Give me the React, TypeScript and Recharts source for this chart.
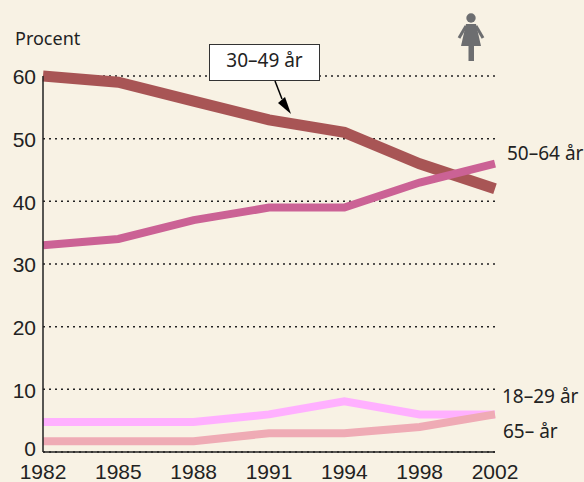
import { LineChart, Line, XAxis, YAxis, CartesianGrid } from 'recharts'

const years = ['1982', '1985', '1988', '1991', '1994', '1998', '2002']
const age30to49 = [60, 59, 56, 53, 51, 46, 42]
const age50to64 = [33, 34, 37, 39, 39, 43, 46]
const age18to29 = [4.8, 4.8, 4.8, 6, 8.1, 6, 6]
const age65plus = [1.7, 1.7, 1.7, 3, 3, 4, 6]
const yTicks = [0, 10, 20, 30, 40, 50, 60]

const data = years.map((year, i) => ({
  year,
  a: age30to49[i],
  b: age50to64[i],
  c: age18to29[i],
  d: age65plus[i],
}))

const BG = '#f8f2e4'
const LABEL_FONT = '"Noto Sans", sans-serif'
const tickStyle = { fontSize: 21, fill: '#222', fontFamily: '"Liberation Sans", sans-serif' }
const labelStyle = { fontSize: 19, fill: '#222', fontFamily: LABEL_FONT }

// the 0 sits a little above the axis so it clears the 1982 label
function YTick({ x, y, payload }: any) {
  const shift = payload.value === 0 ? -3 : 1
  return (
    <text x={x + 5} y={y + shift} dy="0.355em" textAnchor="end" {...tickStyle}>
      {payload.value}
    </text>
  )
}

export default function App() {
  return (
    <div style={{ position: 'absolute', left: 0, top: 0, width: 584, height: 482, background: BG }}>
      <LineChart
        width={584}
        height={482}
        data={data}
        margin={{ top: 76, right: 89, bottom: 0, left: 0 }}
      >
        <CartesianGrid vertical={false} stroke="#222" strokeWidth={1.5} strokeDasharray="2 4" />
        <XAxis
          dataKey="year"
          scale="point"
          height={30}
          tick={tickStyle}
          tickLine={false}
          axisLine={{ stroke: '#222', strokeWidth: 1.5 }}
          interval={0}
          tickMargin={6}
        />
        <YAxis
          width={43}
          domain={[0, 60]}
          ticks={yTicks}
          tick={YTick}
          tickLine={false}
          axisLine={{ stroke: '#222', strokeWidth: 1.5 }}
          tickMargin={6}
        />
        <Line dataKey="a" stroke="#a85555" strokeWidth={11} dot={false} isAnimationActive={false} />
        <Line dataKey="b" stroke="#cb6295" strokeWidth={8} dot={false} isAnimationActive={false} />
        <Line dataKey="c" stroke="#ffb0ff" strokeWidth={8} dot={false} isAnimationActive={false} />
        <Line dataKey="d" stroke="#efabb5" strokeWidth={8} dot={false} isAnimationActive={false} />
      </LineChart>

      <svg width={584} height={482} style={{ position: 'absolute', left: 0, top: 0 }}>
        <text x={15} y={45} {...labelStyle} fontSize={18}>Procent</text>

        {/* callout */}
        <rect x={209.5} y={44.5} width={110} height={36} fill="#fff" stroke="#333" />
        <text x={264.5} y={67} textAnchor="middle" {...labelStyle}>30–49 år</text>
        <line x1={275} y1={81} x2={282} y2={99} stroke="#000" strokeWidth={1.5} />
        <polygon points="291,114 278,103 285,97" fill="#000" />

        <text x={507} y={160} {...labelStyle}>50–64 år</text>
        <text x={502} y={403} {...labelStyle}>18–29 år</text>
        <text x={503} y={438} {...labelStyle}>65– år</text>

        {/* woman icon */}
        <g fill="#6d6e70" stroke="none">
          <circle cx={471} cy={18} r={4.7} />
          <polygon points="466,24 476,24 481,46 461,46" />
          <rect x={468.5} y={45} width={5.5} height={16} />
          <line x1={466} y1={26} x2={459} y2={38} stroke="#6d6e70" strokeWidth={3} />
          <line x1={476} y1={26} x2={483} y2={38} stroke="#6d6e70" strokeWidth={3} />
        </g>
      </svg>
    </div>
  )
}
